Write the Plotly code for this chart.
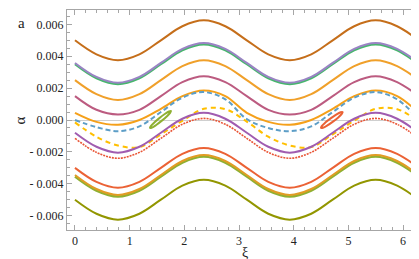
import plotly.graph_objects as go

# sample positions along xi (0 .. 2*pi, step pi/8)
xi = [0.0, 0.3927, 0.7854, 1.1781, 1.5708, 1.9635, 2.3562, 2.7489, 3.1416,
      3.5343, 3.9270, 4.3197, 4.7124, 5.1051, 5.4978, 5.8905, 6.2832]

brown = [0.00500, 0.00412, 0.00375, 0.00412, 0.00500, 0.00588, 0.00625, 0.00588, 0.00500,
         0.00412, 0.00375, 0.00412, 0.00500, 0.00588, 0.00625, 0.00588, 0.00500]
purple_top = [0.00358, 0.00270, 0.00233, 0.00270, 0.00358, 0.00446, 0.00483, 0.00446, 0.00358,
              0.00270, 0.00233, 0.00270, 0.00358, 0.00446, 0.00483, 0.00446, 0.00358]
green_top = [0.00350, 0.00262, 0.00225, 0.00262, 0.00350, 0.00438, 0.00475, 0.00438, 0.00350,
             0.00262, 0.00225, 0.00262, 0.00350, 0.00438, 0.00475, 0.00438, 0.00350]
orange_3 = [0.00250, 0.00162, 0.00125, 0.00162, 0.00250, 0.00338, 0.00375, 0.00338, 0.00250,
            0.00162, 0.00125, 0.00162, 0.00250, 0.00338, 0.00375, 0.00338, 0.00250]
magenta = [0.00150, 0.00064, 0.00035, 0.00064, 0.00150, 0.00238, 0.00275, 0.00238, 0.00150,
           0.00064, 0.00035, 0.00064, 0.00150, 0.00238, 0.00275, 0.00238, 0.00150]
orange_5 = [0.00045, -0.00012, -0.00030, 0.00000, 0.00070, 0.00150, 0.00185, 0.00150, 0.00045,
            -0.00012, -0.00030, 0.00000, 0.00070, 0.00150, 0.00185, 0.00150, 0.00045]
blue_dash = [0.00000, -0.00045, -0.00070, -0.00040, 0.00050, 0.00140, 0.00175, 0.00130, 0.00005,
             -0.00050, -0.00070, -0.00040, 0.00050, 0.00140, 0.00175, 0.00130, 0.00005]
yellow_dash = [-0.00015, -0.00105, -0.00160, -0.00170, -0.00090, -0.00005, 0.00070, 0.00068, -0.00010,
               -0.00105, -0.00160, -0.00170, -0.00090, -0.00005, 0.00070, 0.00068, -0.00010]
purple_low = [-0.00080, -0.00168, -0.00205, -0.00168, -0.00080, 0.00008, 0.00045, 0.00008, -0.00080,
              -0.00168, -0.00205, -0.00168, -0.00080, 0.00008, 0.00045, 0.00008, -0.00080]
red_dot = [-0.00115, -0.00203, -0.00240, -0.00203, -0.00115, -0.00027, 0.00010, -0.00027, -0.00115,
           -0.00203, -0.00240, -0.00203, -0.00115, -0.00027, 0.00010, -0.00027, -0.00115]
red_solid = [-0.00300, -0.00388, -0.00425, -0.00388, -0.00300, -0.00212, -0.00175, -0.00212, -0.00300,
             -0.00388, -0.00425, -0.00388, -0.00300, -0.00212, -0.00175, -0.00212, -0.00300]
orange_low = [-0.00345, -0.00433, -0.00470, -0.00433, -0.00345, -0.00257, -0.00220, -0.00257, -0.00345,
              -0.00433, -0.00470, -0.00433, -0.00345, -0.00257, -0.00220, -0.00257, -0.00345]
lime_low = [-0.00355, -0.00443, -0.00480, -0.00443, -0.00355, -0.00267, -0.00230, -0.00267, -0.00355,
            -0.00443, -0.00480, -0.00443, -0.00355, -0.00267, -0.00230, -0.00267, -0.00355]
olive = [-0.00500, -0.00588, -0.00625, -0.00588, -0.00500, -0.00412, -0.00375, -0.00412, -0.00500,
         -0.00588, -0.00625, -0.00588, -0.00500, -0.00412, -0.00375, -0.00412, -0.00500]

# resonance islands (closed loops)
island_green_xi = [1.755, 1.739, 1.677, 1.583, 1.485, 1.408, 1.371, 1.387, 1.450, 1.543, 1.642, 1.719, 1.755]
island_green_a = [0.000565, 0.000449, 0.000222, -0.000056, -0.000311, -0.000474, -0.000502,
                  -0.000386, -0.000159, 0.000119, 0.000374, 0.000536, 0.000565]
island_red_xi = [4.894, 4.878, 4.814, 4.717, 4.615, 4.534, 4.498, 4.512, 4.577, 4.674, 4.776, 4.856, 4.894]
island_red_a = [0.000502, 0.000385, 0.000164, -0.000101, -0.000338, -0.000485, -0.000502,
                -0.000385, -0.000164, 0.000101, 0.000338, 0.000485, 0.000502]

x_ticks = [0, 1, 2, 3, 4, 5, 6]
y_tickvals = [-0.006, -0.004, -0.002, 0.0, 0.002, 0.004, 0.006]
y_ticktext = ["- 0.006", "- 0.004", "- 0.002", "0.000", "0.002", "0.004", "0.006"]

curves = [
    (brown, "#C56E1A", "solid", 2),
    (green_top, "#47B66D", "solid", 2.2),
    (purple_top, "#9A84C4", "solid", 2),
    (orange_3, "#F0A02A", "solid", 2),
    (magenta, "#BC5B80", "solid", 2),
    (orange_5, "#F5A01A", "solid", 2),
    (blue_dash, "#5D9EC7", "5px,3px", 2),
    (yellow_dash, "#FFBF00", "5px,4px", 2),
    (purple_low, "#A05CB0", "solid", 2),
    (red_dot, "#E95536", "2px,1px", 1.6),
    (red_solid, "#EB6235", "solid", 2),
    (lime_low, "#8FB032", "solid", 2.4),
    (orange_low, "#E19C24", "solid", 2),
    (olive, "#929600", "solid", 2),
]

fig = go.Figure()
for ys, col, dash, w in curves:
    fig.add_trace(go.Scatter(x=xi, y=ys, mode="lines",
                             line=dict(color=col, width=w, dash=dash, shape="spline"),
                             hoverinfo="skip", showlegend=False))

fig.add_trace(go.Scatter(x=island_green_xi, y=island_green_a, mode="lines",
                         line=dict(color="#8FB032", width=2, shape="spline"),
                         hoverinfo="skip", showlegend=False))
fig.add_trace(go.Scatter(x=island_red_xi, y=island_red_a, mode="lines",
                         line=dict(color="#EB6235", width=2, shape="spline"),
                         hoverinfo="skip", showlegend=False))

axis_common = dict(showgrid=False, showline=True, linecolor="#A6A6A6", linewidth=1,
                   mirror="allticks", ticks="inside", tickcolor="#A6A6A6", automargin=False,
                   tickfont=dict(family="Liberation Serif", size=12, color="#222222"))

fig.update_xaxes(range=[-0.146, 6.40], tickmode="array", tickvals=x_ticks,
                 ticklen=5, zeroline=False,
                 minor=dict(ticks="inside", dtick=0.2, tick0=0, ticklen=3, tickcolor="#A6A6A6"),
                 **axis_common)
fig.update_yaxes(range=[-0.0069, 0.0069], tickmode="array", tickvals=y_tickvals,
                 ticktext=y_ticktext, ticklen=5,
                 zeroline=True, zerolinecolor="#CFCFCF", zerolinewidth=1,
                 minor=dict(ticks="inside", dtick=0.0005, tick0=0, ticklen=3, tickcolor="#A6A6A6"),
                 **axis_common)

fig.update_layout(
    width=419, height=259,
    margin=dict(l=59, r=2, t=2, b=37),
    paper_bgcolor="white", plot_bgcolor="white",
    annotations=[
        dict(text="a", xref="paper", yref="paper", x=-0.1257, y=0.941, showarrow=False,
             xanchor="center", yanchor="middle",
             font=dict(family="Liberation Serif", size=15, color="#222222")),
        dict(text="α", xref="paper", yref="paper", x=-0.13, y=0.5, showarrow=False,
             xanchor="center", yanchor="middle", textangle=-90,
             font=dict(family="Liberation Serif", size=15, color="#222222")),
        dict(text="ξ", xref="paper", yref="paper", x=0.497, y=-0.1, showarrow=False,
             xanchor="center", yanchor="middle",
             font=dict(family="Liberation Serif", size=14, color="#222222")),
    ],
)

fig.write_html("out.html")
